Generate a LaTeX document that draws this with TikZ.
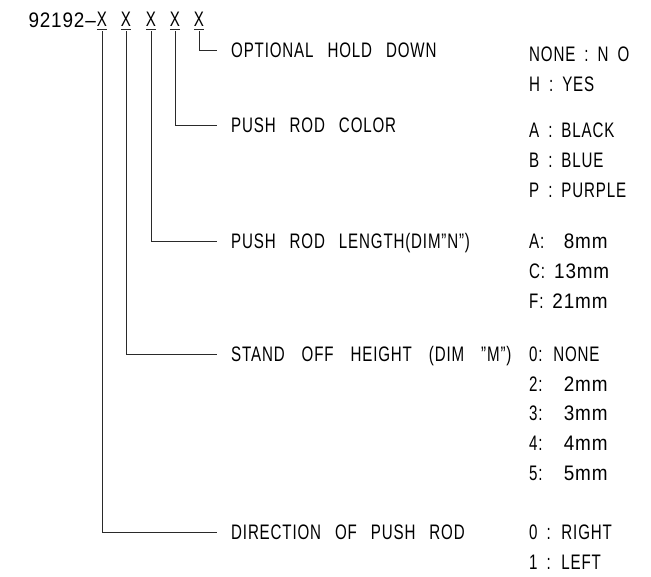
\documentclass[tikz,border=0pt]{standalone}
\usepackage{fontspec}
\setmainfont{Liberation Sans}[FakeStretch=0.72, LetterSpace=4]
\newfontfamily\cadnum{Liberation Sans}[FakeStretch=0.9, LetterSpace=4, Ligatures=TeX]
\usetikzlibrary{positioning}
\definecolor{leadgrey}{HTML}{2A2A2A}

\begin{document}
\begin{tikzpicture}[x=1pt, y=-1pt,
  every node/.style={font=\fontsize{21}{21}\selectfont, inner sep=0pt,
    text height=15pt, text depth=0pt},
  digit/.style={text depth=3pt},
  field/.style={anchor=west, font={\fontsize{21}{21}\selectfont\spaceskip=14pt\relax}},
  opt/.style={anchor=west, font={\fontsize{21}{21}\selectfont\spaceskip=9pt\relax}},
  lead/.style={draw=leadgrey, line width=0.9pt}]
\useasboundingbox (0,0) rectangle (651,576);
% part number
\node[anchor=east] (code) at (96,20) {\cadnum 92192\textendash};
\node[digit] (d1) at (102,20) {X};
\node[digit] (d2) at (126,20) {X};
\node[digit] (d3) at (151,20) {X};
\node[digit] (d4) at (175,20) {X};
\node[digit] (d5) at (199,20) {X};
\foreach \d in {d1,d2,d3,d4,d5}
  \draw[lead] (\d.south west) -- (\d.south east);
% fields
\node[field] (hold) at (231,50) {OPTIONAL HOLD DOWN};
\node[field] (color) at (231,125) {PUSH ROD COLOR};
\node[field] (len) at (231,241) {PUSH ROD LENGTH(DIM''N'')};
\node[field, font={\fontsize{21}{21}\selectfont\spaceskip=17pt\relax}] (stand)
  at (231,354) {STAND OFF HEIGHT (DIM ''M'')};
\node[field] (dir) at (231,532) {DIRECTION OF PUSH ROD};
% options
\node[opt] (h0) at (529,54) {NONE : N O};
\node[opt] (h1) at (529,84) {H : YES};
\node[opt] (c0) at (529,130) {A : BLACK};
\node[opt] (c1) at (529,160) {B : BLUE};
\node[opt] (c2) at (529,190) {P : PURPLE};
\node[opt] (l0) at (529,241) {A: {\cadnum\phantom{1}8mm}};
\node[opt] (l1) at (529,271) {C: {\cadnum 13mm}};
\node[opt] (l2) at (529,301) {F: {\cadnum 21mm}};
\node[opt] (s0) at (529,354) {0: NONE};
\node[opt] (s1) at (529,384) {2: {\cadnum\phantom{1}2mm}};
\node[opt] (s2) at (529,413) {3: {\cadnum\phantom{1}3mm}};
\node[opt] (s3) at (529,443) {4: {\cadnum\phantom{1}4mm}};
\node[opt] (s4) at (529,473) {5: {\cadnum\phantom{1}5mm}};
\node[opt] (r0) at (529,532) {0 : RIGHT};
\node[opt] (r1) at (529,562) {1 : LEFT};
% leaders
\draw[lead] ([yshift=-2pt]d5.south) |- ([xshift=-14pt]hold.west);
\draw[lead] ([yshift=-2pt]d4.south) |- ([xshift=-14pt]color.west);
\draw[lead] ([yshift=-2pt]d3.south) |- ([xshift=-14pt]len.west);
\draw[lead] ([yshift=-2pt]d2.south) |- ([xshift=-14pt]stand.west);
\draw[lead] ([yshift=-2pt]d1.south) |- ([xshift=-14pt]dir.west);
\end{tikzpicture}
\end{document}
